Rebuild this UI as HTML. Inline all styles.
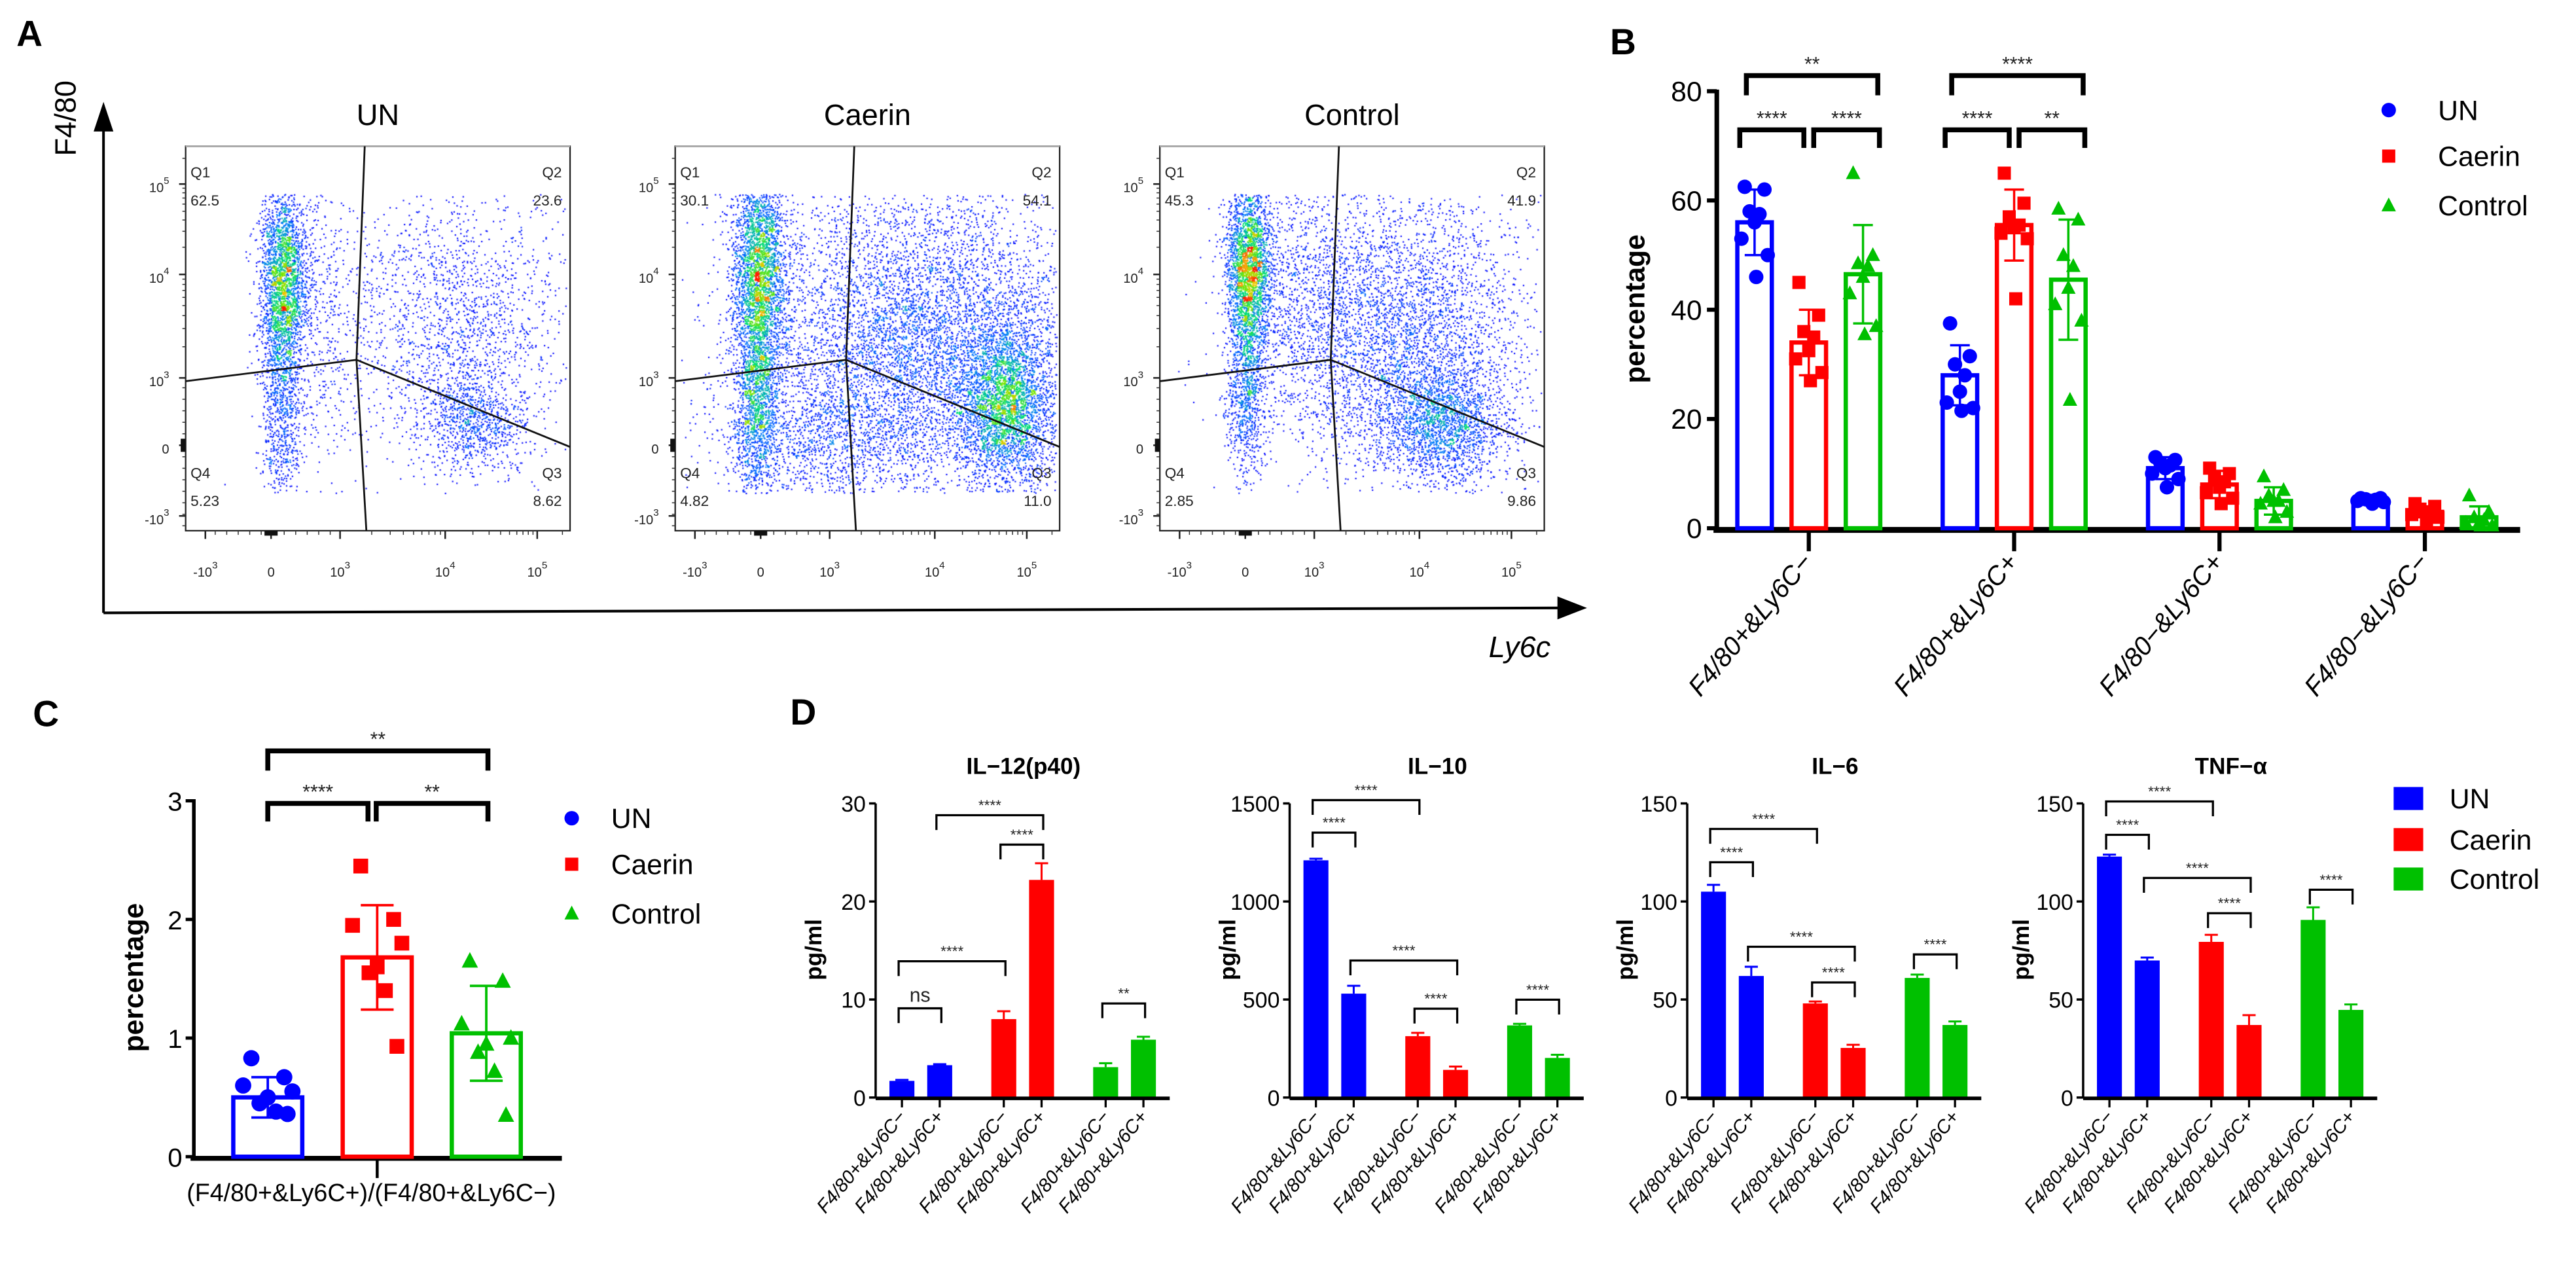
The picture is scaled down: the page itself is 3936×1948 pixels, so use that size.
<!DOCTYPE html>
<html><head><meta charset="utf-8">
<style>
html,body{margin:0;padding:0;background:#fff;}
#wrap{position:relative;width:3936px;height:1948px;overflow:hidden;}
#flow{position:absolute;left:0;top:0;}
#fig{position:absolute;left:0;top:0;}
text{font-family:"Liberation Sans",Arial,sans-serif;}
</style></head>
<body>
<div id="wrap">
<canvas id="flow" width="3936" height="1948"></canvas>
<svg id="fig" width="3936" height="1948" viewBox="0 0 1568 776" xmlns="http://www.w3.org/2000/svg"></svg>
</div>
<script>
// ===== Panel B data =====
const bGroups=["F4/80+&Ly6C\u2212","F4/80+&Ly6C+","F4/80\u2212&Ly6C+","F4/80\u2212&Ly6C\u2212"];
const bMeanUN=[56,28,11,5];
const bMeanCaerin=[34,55.5,8,3];
const bMeanControl=[46.5,45.5,5,2];
const bSdUN=[6,5.5,2,0.5];
const bSdCaerin=[6,6.5,2.5,1];
const bSdControl=[9,11,2.5,2];
const bPtsUN=[[62.5,62,58,57.5,56,53,50,46],[37.5,31.5,30,28,25,23,22,21.5],[13,12.5,12,11.5,11,10,9,7.5],[5.5,5.5,5.3,5.2,5,5,4.8,4.5]];
const bPtsCaerin=[[45,39,36,35,32.5,31,28.5,27],[65,59.5,57,55.5,55,54,53,42],[11,10,9.5,8.5,7.5,6.5,5.5,4.5],[4.5,4,3.5,3,3,2.5,2,1.5]];
const bPtsControl=[[65,50,48.5,48,46,43,37,35.5],[58.5,56.5,50,48,44,41,38,23.5],[9.5,7,6,5,5,4.5,3,2],[6,3,2,1.5,1,1,0.5,0.5]];
const bTicks=[0,20,40,60,80];
// ===== Panel C data =====
const cMeans=[0.5,1.68,1.04];
const cSds=[0.17,0.44,0.4];
const cPtsUN=[0.83,0.67,0.6,0.55,0.5,0.45,0.38,0.36];
const cPtsCaerin=[2.45,2.0,1.95,1.8,1.6,1.55,1.4,0.93];
const cPtsControl=[1.65,1.48,1.12,1.0,0.95,0.88,0.72,0.35];
const cTicks=[0,1,2,3];
// ===== Panel D data =====
const dCats=["F4/80+&Ly6C\u2212","F4/80+&Ly6C+","F4/80+&Ly6C\u2212","F4/80+&Ly6C+","F4/80+&Ly6C\u2212","F4/80+&Ly6C+"];
const dTitles=["IL\u221212(p40)","IL\u221210","IL\u22126","TNF\u2212\u03b1"];
const il12Vals=[1.7,3.3,8,22.2,3.1,5.9];
const il12Err=[0.1,0.1,0.8,1.7,0.4,0.3];
const il10Vals=[1210,530,313,141,368,202];
const il10Err=[8,40,17,17,8,16];
const il6Vals=[105,62,48,25.3,61,37];
const il6Err=[3.5,4.7,1,1.6,1.7,1.8];
const tnfVals=[122.9,69.9,79.4,37,90.6,44.7];
const tnfErr=[1,1.5,3.6,5,6.4,2.8];
const il12Ticks=[0,10,20,30];
const il10Ticks=[0,500,1000,1500];
const il6Ticks=[0,50,100,150];
const tnfTicks=[0,50,100,150];
const il12Sig=[[0,1,9.1,"ns"],[0,2,13.9,"****"],[1,3,28.8,"****"],[2,3,25.8,"****"],[4,5,9.6,"**"]];
const il10Sig=[[0,2,1517,"****"],[0,1,1351,"****"],[1,3,699,"****"],[2,3,453,"****"],[4,5,499,"****"]];
const il6Sig=[[0,2,137,"****"],[0,1,120,"****"],[1,3,76.9,"****"],[2,3,58.7,"****"],[4,5,73,"****"]];
const tnfSig=[[0,2,151,"****"],[0,1,134,"****"],[1,3,112,"****"],[2,3,94,"****"],[4,5,106,"****"]];

const NS='http://www.w3.org/2000/svg';
const svg=document.getElementById('fig');
const BLUE='#0000ff',RED='#ff0000',GREEN='#00c000';
function mk(tag,attrs,parent){const e=document.createElementNS(NS,tag);for(const k in attrs)e.setAttribute(k,attrs[k]);(parent||svg).appendChild(e);return e;}
function txt(s,attrs,parent){const e=mk('text',attrs,parent);e.textContent=s;return e;}
function grp(name,parent){const g=mk('g',{},parent);


return g;}
function marker(shape,x,y,s,color,parent){
  let e;
  if(shape==='circle')e=mk('circle',{cx:x,cy:y,r:s*0.55,fill:color},parent);
  else if(shape==='square')e=mk('rect',{x:x-s*0.5,y:y-s*0.5,width:s,height:s,fill:color},parent);
  else e=mk('polygon',{points:`${x},${y-s*0.6} ${x-s*0.55},${y+s*0.45} ${x+s*0.55},${y+s*0.45}`,fill:color},parent);
  return e;
}
function bracket(x1,x2,y,leg,sw,label,fs,parent){
  const g=grp('significance-bracket',parent);
  mk('path',{d:`M${x1},${y+leg} V${y} H${x2} V${y+leg}`,fill:'none',stroke:'#000','stroke-width':sw},g);
  const t=txt(label,{x:(x1+x2)/2,y:label==='ns'?y-4:y-3,'text-anchor':'middle','font-size':fs,fill:'#222'},g);
  
  
}

// ================= Panel A =================
(function(){
const gA=grp('panel-a');
const la=txt('A',{x:10,y:28,'font-size':22,'font-weight':'bold'},gA);


mk('line',{x1:63,y1:373,x2:63,y2:75,stroke:'#000','stroke-width':1.6},gA);
mk('polygon',{points:'57,80 69,80 63,62',fill:'#000'},gA);
mk('line',{x1:63,y1:373,x2:952,y2:370,stroke:'#000','stroke-width':1.6},gA);
mk('polygon',{points:'948,363 948,377 966,370',fill:'#000'},gA);
const yl=txt('F4/80',{x:0,y:0,transform:'translate(46,72) rotate(-90)','text-anchor':'middle','font-size':18},gA);


const xl=txt('Ly6c',{x:925,y:400,'font-size':18,'font-style':'italic','text-anchor':'middle'},gA);


const plots=[{x0:113,t:'UN',q:['62.5','23.6','8.62','5.23']},{x0:411,t:'Caerin',q:['30.1','54.1','11.0','4.82']},{x0:706,t:'Control',q:['45.3','41.9','9.86','2.85']}];
const W=234,T=89,B=323;
plots.forEach(p=>{
  const g=grp('flow-plot-'+p.t.toLowerCase(),gA);
  const x0=p.x0;
  const tt=txt(p.t,{x:x0+W/2,y:76,'text-anchor':'middle','font-size':18},g);
  
  
  mk('rect',{x:x0,y:T,width:W,height:B-T,fill:'none',stroke:'#222','stroke-width':0.9},g);
  mk('line',{x1:x0,y1:T,x2:x0+W,y2:T,stroke:'#aaa','stroke-width':1.2},g);
  const gate=mk('path',{d:`M${x0+109},${T} L${x0+104},219 L${x0+110},${B} M${x0},232 L${x0+104},219 L${x0+W},272`,fill:'none',stroke:'#111','stroke-width':1.1},g);
  
  
  const fs=9;
  [['Q1',x0+3,108,'start'],[p.q[0],x0+3,125,'start'],['Q2',x0+W-5,108,'end'],[p.q[1],x0+W-5,125,'end'],
   ['Q4',x0+3,291,'start'],[p.q[3],x0+3,308,'start'],['Q3',x0+W-5,291,'end'],[p.q[2],x0+W-5,308,'end']].forEach(a=>{
    const e=txt(a[0],{x:a[1],y:a[2],'font-size':fs,'text-anchor':a[3],fill:'#222'},g);
    
    
  });
  const yt=[[112,'10','5'],[167,'10','4'],[230,'10','3'],[271,'0',''],[314,'-10','3']];
  yt.forEach(a=>{
    mk('line',{x1:x0-4,y1:a[0],x2:x0,y2:a[0],stroke:'#222','stroke-width':1},g);
    const e=txt(a[1],{x:x0-10,y:a[0]+5,'font-size':8,'text-anchor':'end',fill:'#222'},g);
    if(a[2]){const s=mk('tspan',{dy:-5,'font-size':6},e);s.textContent=a[2];}
    
    
  });
  for(let d=0;d<3;d++){const base=[230,167,112][d],nxt=[167,112,60][d];
    for(let k=2;k<10;k++){const yy=base-(base-nxt)*Math.log10(k);if(yy>T)mk('line',{x1:x0-2,y1:yy,x2:x0,y2:yy,stroke:'#333','stroke-width':0.6},g);}}
  for(let yy=236;yy<=320;yy+=7)mk('line',{x1:x0-2,y1:yy,x2:x0,y2:yy,stroke:'#333','stroke-width':0.6},g);
  mk('rect',{x:x0-3,y:267,width:3,height:8,fill:'#111'},g);
  const xt=[[12,'-10','3'],[52,'0',''],[94,'10','3'],[158,'10','4'],[214,'10','5']];
  xt.forEach(a=>{
    mk('line',{x1:x0+a[0],y1:B,x2:x0+a[0],y2:B+5,stroke:'#222','stroke-width':1},g);
    const e=txt(a[1],{x:x0+a[0],y:B+28,'font-size':8,'text-anchor':'middle',fill:'#222'},g);
    if(a[2]){const s=mk('tspan',{dy:-5,'font-size':6},e);s.textContent=a[2];}
    
    
  });
  for(let d=0;d<3;d++){const base=[94,158,214][d],nxt=[158,214,265][d];
    for(let k=2;k<10;k++){const xx=base+(nxt-base)*Math.log10(k);if(xx<W)mk('line',{x1:x0+xx,y1:B,x2:x0+xx,y2:B+2.5,stroke:'#333','stroke-width':0.6},g);}}
  for(let xx=18;xx<90;xx+=7)mk('line',{x1:x0+xx,y1:B,x2:x0+xx,y2:B+2.5,stroke:'#333','stroke-width':0.6},g);
  mk('rect',{x:x0+48,y:B,width:8,height:3,fill:'#111'},g);
});
})();

// flow dots (texture)
(function(){
const cv=document.getElementById('flow');const ctx=cv.getContext('2d');
const S=3936/1568;ctx.scale(S,S);
let seed=12345;function rnd(){seed|=0;seed=seed+0x6D2B79F5|0;let t=Math.imul(seed^seed>>>15,1|seed);t=t+Math.imul(t^t>>>7,61|t)^t;return((t^t>>>14)>>>0)/4294967296;}
function gauss(){let u=rnd()||1e-6,v=rnd();return Math.sqrt(-2*Math.log(u))*Math.cos(2*Math.PI*v);}
const clouds=[
 {x0:113,c:[[172,172,7,30,2600],[171,250,6,28,700],[195,190,18,45,600],[280,200,32,45,1900],[290,258,15,14,700]]},
 {x0:411,c:[[462,168,8,35,3200],[460,250,7,28,1300],[560,205,52,48,6500],[612,245,15,25,3200],[505,265,35,25,1200]]},
 {x0:706,c:[[760,163,7,28,2800],[758,240,6,28,800],[790,180,18,40,700],[850,200,40,45,4000],[878,258,20,18,1900]]}
];
function col(f){const stops=[[0,0,255],[0,120,255],[0,220,120],[120,230,0],[240,200,0],[255,30,0]];
 f=Math.max(0,Math.min(1,f))*(stops.length-1);const i=Math.min(stops.length-2,Math.floor(f)),t=f-i;
 const a=stops[i],b=stops[i+1];return `rgb(${a[0]+(b[0]-a[0])*t|0},${a[1]+(b[1]-a[1])*t|0},${a[2]+(b[2]-a[2])*t|0})`;}
clouds.forEach(cl=>{
 const pts=[];
 cl.c.forEach(c=>{for(let i=0;i<c[4];i++){const x=c[0]+gauss()*c[2],y=c[1]+gauss()*c[3];if(x>cl.x0+2&&x<cl.x0+232&&y>118&&y<300)pts.push([x,y]);}});
 const grid={};const cs=3;
 pts.forEach(p=>{const k=((p[0]/cs)|0)+','+((p[1]/cs)|0);grid[k]=(grid[k]||0)+1;});
 let mx=0;for(const k in grid)mx=Math.max(mx,grid[k]);
 pts.forEach(p=>{const k=((p[0]/cs)|0)+','+((p[1]/cs)|0);const d=grid[k]/mx;
  ctx.fillStyle=col(Math.pow(d,1.5)*1.2);ctx.fillRect(p[0],p[1],0.85,0.85);});
});
})();

// ================= Panel B =================
(function(){
const g=grp('panel-b');
const lb=txt('B',{x:980,y:33,'font-size':22,'font-weight':'bold'},g);


const y0=321.5,k=3.325;const Y=v=>y0-v*k;
const X=(gi,si)=>1101+125*gi+(si-1)*33;
mk('line',{x1:1045,y1:Y(80)-1,x2:1045,y2:y0+1,stroke:'#000','stroke-width':2.8},g);
mk('line',{x1:1043,y1:y0+1,x2:1534,y2:y0+1,stroke:'#000','stroke-width':3.6},g);
bTicks.forEach(t=>{mk('line',{x1:1039,y1:Y(t),x2:1045,y2:Y(t),stroke:'#000','stroke-width':2.5},g);
 const e=txt(String(t),{x:1036,y:Y(t)+6,'font-size':17,'text-anchor':'end'},g);
 
 });
const yt=txt('percentage',{x:0,y:0,transform:`translate(1001,188) rotate(-90)`,'text-anchor':'middle','font-size':17,'font-weight':'bold'},g);


bGroups.forEach((lab,gi)=>{
 const cx=1101+125*gi;
 mk('line',{x1:cx,y1:y0+2,x2:cx,y2:y0+14,stroke:'#000','stroke-width':2.5},g);
 const e=txt(lab,{x:0,y:0,transform:`translate(${cx+3},${y0+21}) rotate(-50)`,'text-anchor':'end','font-size':16,'font-style':'italic'},g);
 
 
});
const series=[[bMeanUN,bSdUN,bPtsUN,BLUE,'circle','UN'],[bMeanCaerin,bSdCaerin,bPtsCaerin,RED,'square','Caerin'],[bMeanControl,bSdControl,bPtsControl,GREEN,'triangle','Control']];
const jit=[-6,6,-3,3,0,-8,8,1];
series.forEach((s,si)=>{
 s[0].forEach((m,gi)=>{
  const x=X(gi,si);
  const bar=mk('rect',{x:x-10.5,y:Y(m),width:21,height:y0-Y(m),fill:'#fff',stroke:s[3],'stroke-width':2.6},g);
  
  
  s[2][gi].forEach((v,pi)=>{const mm=marker(s[4],x+jit[pi],Y(v),8,s[3],g);
   
   });
  const sd=s[1][gi];
  mk('path',{d:`M${x},${Y(m-sd)} V${Y(m+sd)} M${x-6},${Y(m+sd)} H${x+6} M${x-6},${Y(m-sd)} H${x+6}`,stroke:s[3],'stroke-width':1.4,fill:'none'},g);
 });
});
[[0,'**','****','****'],[1,'****','****','**']].forEach(b=>{
 const gi=b[0];
 bracket(X(gi,0)-5,X(gi,2)+9,46,12,3,b[1],12,g);
 bracket(X(gi,0)-9,X(gi,1)-3,79,11,3,b[2],12,g);
 bracket(X(gi,1)+3,X(gi,2)+10,79,11,3,b[3],12,g);
});
series.forEach((s,si)=>{
 const yy=[72,100,130][si];
 const lg=grp('legend-entry-'+s[5].toLowerCase(),g);
 marker(s[4],1454,yy-5,8,s[3],lg);
 txt(s[5],{x:1484,y:yy+1,'font-size':17},lg);
});
})();

// ================= Panel C =================
(function(){
const g=grp('panel-c');
const lc=txt('C',{x:20,y:442,'font-size':22,'font-weight':'bold'},g);


const y0=704,k=72.2;const Y=v=>y0-v*k;
const xs=[163,229.6,296];
mk('line',{x1:118,y1:Y(3)-1,x2:118,y2:y0+1,stroke:'#000','stroke-width':2.2},g);
mk('line',{x1:116,y1:y0+1,x2:342,y2:y0+1,stroke:'#000','stroke-width':3},g);
cTicks.forEach(t=>{mk('line',{x1:113,y1:Y(t),x2:118,y2:Y(t),stroke:'#000','stroke-width':2},g);
 const e=txt(String(t),{x:111,y:Y(t)+6,'font-size':16,'text-anchor':'end'},g);
 
 });
mk('line',{x1:229.6,y1:y0+2,x2:229.6,y2:y0+13,stroke:'#000','stroke-width':1.8},g);
const xl=txt('(F4/80+&Ly6C+)/(F4/80+&Ly6C\u2212)',{x:226,y:731,'text-anchor':'middle','font-size':15},g);


const yt=txt('percentage',{x:0,y:0,transform:`translate(87,595) rotate(-90)`,'text-anchor':'middle','font-size':17,'font-weight':'bold'},g);


const series=[[cPtsUN,BLUE,'circle','UN'],[cPtsCaerin,RED,'square','Caerin'],[cPtsControl,GREEN,'triangle','Control']];
const jit=[-10,10,-15,15,0,-5,5,12];
series.forEach((s,si)=>{
 const x=xs[si],m=cMeans[si],sd=cSds[si];
 const bar=mk('rect',{x:x-21,y:Y(m),width:42,height:y0-Y(m),fill:'#fff',stroke:s[1],'stroke-width':2.6},g);
 
 
 s[0].forEach((v,pi)=>{const mm=marker(s[2],x+jit[pi],Y(v),9,s[1],g);
  
  });
 mk('path',{d:`M${x},${Y(m-sd)} V${Y(m+sd)} M${x-10},${Y(m+sd)} H${x+10} M${x-10},${Y(m-sd)} H${x+10}`,stroke:s[1],'stroke-width':1.5,fill:'none'},g);
});
bracket(163,297,457,12,3,'**',12,g);
bracket(163,224,489,11,3,'****',12,g);
bracket(229,297,489,11,3,'**',12,g);
series.forEach((s,si)=>{
 const yy=[503,531,561][si];
 const lg=grp('legend-entry-'+s[3].toLowerCase(),g);
 marker(s[2],348,yy-5,8,s[1],lg);
 txt(s[3],{x:372,y:yy+1,'font-size':17},lg);
});
})();

// ================= Panel D =================
(function(){
const g=grp('panel-d');
const ld=txt('D',{x:481,y:441,'font-size':22,'font-weight':'bold'},g);


const subs=[[533,il12Vals,il12Err,il12Ticks,il12Sig],[785,il10Vals,il10Err,il10Ticks,il10Sig],[1027,il6Vals,il6Err,il6Ticks,il6Sig],[1268,tnfVals,tnfErr,tnfTicks,tnfSig]];
const offs=[16,39,78,101,140,163];
const cols=[BLUE,BLUE,RED,RED,GREEN,GREEN];
const y0=668,top=489,H=179;
subs.forEach((sb,si)=>{
 const ax=sb[0],vals=sb[1],err=sb[2],ticks=sb[3],sig=sb[4];
 const mx=ticks[ticks.length-1];const Y=v=>y0-v/mx*H;
 const sg=grp('cytokine-chart-'+si,g);
 const tt=txt(dTitles[si],{x:ax+90,y:471,'text-anchor':'middle','font-size':14,'font-weight':'bold'},sg);
 
 
 const yl=txt('pg/ml',{x:0,y:0,transform:`translate(${ax-33},578) rotate(-90)`,'text-anchor':'middle','font-size':14,'font-weight':'bold'},sg);
 
 
 mk('line',{x1:ax,y1:top,x2:ax,y2:y0,stroke:'#000','stroke-width':1.4},sg);
 ticks.forEach(t=>{mk('line',{x1:ax-4,y1:Y(t),x2:ax,y2:Y(t),stroke:'#000','stroke-width':1.4},sg);
  const e=txt(String(t),{x:ax-6,y:Y(t)+5,'font-size':13.5,'text-anchor':'end'},sg);
  
  });
 vals.forEach((v,i)=>{
  const x=ax+offs[i];
  const b=mk('rect',{x:x-7.6,y:Y(v),width:15.2,height:y0-Y(v),fill:cols[i]},sg);
  
  
  mk('path',{d:`M${x},${Y(v)} V${Y(v+err[i])} M${x-4},${Y(v+err[i])} H${x+4}`,stroke:cols[i],'stroke-width':1.2,fill:'none'},sg);
  mk('line',{x1:x,y1:y0,x2:x,y2:y0+6,stroke:'#000','stroke-width':1.3},sg);
  const e=txt(dCats[i],{x:0,y:0,transform:`translate(${x+3},${y0+12}) rotate(-50)`,'text-anchor':'end','font-size':11.5,'font-style':'italic'},sg);
  
  
 });
 mk('line',{x1:ax,y1:y0+0.5,x2:ax+179,y2:y0+0.5,stroke:'#000','stroke-width':2.2},sg);
 sig.forEach(s=>{
  bracket(ax+offs[s[0]]-2,ax+offs[s[1]]+1,Y(s[2]),9,1.3,s[3],s[3]==='ns'?12:9,sg);
 });
});
['UN','Caerin','Control'].forEach((n,i)=>{
 const yy=[486,511,535][i];
 const lg=grp('legend-entry-'+n.toLowerCase(),g);
 mk('rect',{x:1457,y:yy-7,width:18,height:14,fill:[BLUE,RED,GREEN][i]},lg);
 txt(n,{x:1491,y:yy+6,'font-size':17},lg);
});
})();
</script>
</body></html>
